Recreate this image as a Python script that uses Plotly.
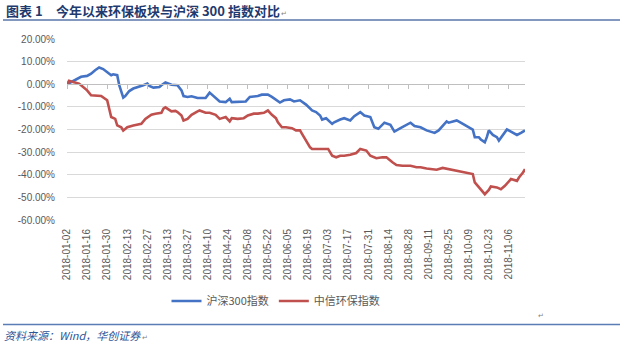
import plotly.graph_objects as go

# ---- data (trading-day index from 2018-01-02, value in %) ----
TICK_LABELS = ["2018-01-02", "2018-01-16", "2018-01-30", "2018-02-13", "2018-02-27",
               "2018-03-13", "2018-03-27", "2018-04-10", "2018-04-24", "2018-05-08",
               "2018-05-22", "2018-06-05", "2018-06-19", "2018-07-03", "2018-07-17",
               "2018-07-31", "2018-08-14", "2018-08-28", "2018-09-11", "2018-09-25",
               "2018-10-09", "2018-10-23", "2018-11-06"]
TICK_STEP = 10
N_DAYS = 229

HS300_DAY = [0, 2, 5, 7, 10, 12, 14, 16, 18, 20, 22, 23, 25, 26, 27, 28, 29, 31, 33, 36,
             38, 40, 41, 43, 46, 47, 49, 52, 54, 55, 57, 58, 60, 62, 65, 69, 71, 74, 76, 79,
             81, 82, 85, 89, 91, 95, 97, 100, 102, 104, 106, 108, 111, 113, 115, 116, 119, 122, 124, 126,
             127, 129, 132, 133, 136, 138, 141, 143, 146, 148, 151, 153, 155, 157, 158, 161, 163, 166, 168, 171,
             173, 176, 179, 181, 183, 185, 187, 189, 190, 194, 196, 200, 202, 203, 205, 206, 208, 209, 210, 212,
             214, 215, 217, 219, 221, 224, 226, 228]
HS300 = [0.0, 1.0, 2.2, 3.3, 3.7, 4.7, 6.2, 7.4, 6.7, 5.5, 4.0, 4.4, 4.0, -0.4, -3.4, -5.9, -5.2, -3.0, -1.9, -1.2,
         -0.4, 0.3, -0.7, -1.5, -1.2, -0.4, 0.8, -0.2, -0.4, -0.4, -2.7, -5.2, -5.6, -5.3, -6.1, -6.1, -3.7, -6.1, -7.6, -7.9,
         -6.4, -7.9, -7.9, -7.6, -5.6, -5.2, -4.6, -4.6, -5.6, -6.7, -8.1, -7.1, -6.7, -7.6, -7.1, -7.1, -9.0, -11.6, -12.3, -13.8,
         -15.6, -15.0, -17.5, -16.8, -15.6, -15.0, -16.0, -14.1, -12.3, -13.8, -14.5, -19.0, -19.7, -17.9, -17.0, -17.9, -20.9, -19.4, -18.5, -17.0,
         -18.5, -19.0, -20.4, -20.9, -21.5, -20.4, -18.2, -16.4, -17.0, -16.0, -17.0, -19.0, -20.0, -23.4, -23.4, -24.4, -25.6, -23.4, -20.4, -22.4,
         -23.4, -24.9, -22.7, -20.0, -20.9, -22.4, -21.5, -20.4]

ENV_DAY = [0, 1, 3, 6, 7, 10, 12, 15, 17, 20, 21, 22, 24, 25, 27, 28, 30, 33, 37, 39,
           42, 44, 47, 48, 49, 52, 54, 55, 57, 58, 60, 62, 65, 66, 69, 71, 74, 76, 79, 81,
           82, 85, 88, 90, 93, 95, 98, 100, 102, 104, 105, 107, 109, 112, 114, 116, 117, 119, 121, 122,
           125, 127, 130, 132, 134, 136, 138, 141, 144, 146, 149, 151, 154, 157, 159, 162, 164, 167, 169, 171,
           174, 176, 179, 181, 184, 187, 190, 192, 195, 197, 200, 202, 203, 205, 206, 208, 210, 211, 214, 216,
           218, 220, 221, 224, 225, 227, 228]
ENV = [0.0, 1.5, 1.0, 0.3, -0.4, -2.7, -4.9, -4.9, -5.2, -7.1, -11.0, -14.5, -15.3, -18.2, -19.0, -20.5, -19.0, -18.2, -17.5, -15.3,
       -13.5, -13.0, -12.6, -10.8, -10.2, -12.0, -11.8, -12.3, -13.8, -16.0, -15.3, -13.5, -12.0, -11.6, -12.6, -12.6, -13.5, -15.3, -14.5, -16.4,
       -15.0, -15.3, -15.0, -13.8, -13.0, -13.0, -12.6, -11.6, -13.5, -15.0, -16.8, -19.0, -19.0, -19.4, -20.4, -20.4, -21.9, -24.9, -27.9, -28.6,
       -28.6, -28.3, -28.6, -31.6, -32.3, -31.6, -31.6, -31.2, -30.4, -28.6, -29.3, -31.6, -32.7, -32.3, -32.3, -34.5, -35.7, -36.0, -36.0, -36.0,
       -36.7, -36.7, -37.2, -37.5, -37.8, -37.0, -37.5, -37.8, -38.2, -38.7, -39.2, -39.7, -43.4, -45.6, -46.7, -48.6, -46.7, -45.2, -45.6, -46.4,
       -44.9, -42.7, -41.9, -42.7, -41.2, -39.0, -37.5]

Y_TICKS = [20, 10, 0, -10, -20, -30, -40, -50, -60]
Y_LABELS = ["20.00%", "10.00%", "0.00%", "-10.00%", "-20.00%", "-30.00%", "-40.00%", "-50.00%", "-60.00%"]

SERIES_NAMES = ["沪深300指数", "中信环保指数"]
TITLE_NO = "图表 1"
TITLE = "今年以来环保板块与沪深 300 指数对比"
SOURCE = "资料来源：Wind，华创证券"
PARA = "↵"

# ---- layout geometry (pixels) ----
W, H = 620, 343
L, R, T, B = 67, 525, 39, 220


def px(x):
    return (x - L) / (R - L)


def py(y):
    return (B - y) / (B - T)


BLUE = "#4472C4"
RED = "#C0504D"
GRID = "#D9D9D9"
TXT = "#595959"
NUM_FONT = "Liberation Sans"
CJK_FONT = "Noto Sans CJK SC"
PARA_SPAN = f"<span style='font-size:7px;color:#7F7F7F;font-style:normal;font-weight:normal'> {PARA}</span>"

fig = go.Figure()
fig.add_trace(go.Scatter(x=HS300_DAY, y=HS300, mode="lines", name=SERIES_NAMES[0],
                         line=dict(color=BLUE, width=2.6)))
fig.add_trace(go.Scatter(x=ENV_DAY, y=ENV, mode="lines", name=SERIES_NAMES[1],
                         line=dict(color=RED, width=2.6)))
# carrier for the category axis drawn at the 0% line
fig.add_trace(go.Scatter(x=[0, N_DAYS - 1], y=[0, 0], mode="lines", xaxis="x2",
                         line=dict(color="rgba(0,0,0,0)", width=0), showlegend=False,
                         hoverinfo="skip"))

tickvals = [i * TICK_STEP for i in range(len(TICK_LABELS))]

fig.update_layout(
    width=W, height=H,
    margin=dict(l=L, r=W - R, t=T, b=H - B),
    paper_bgcolor="white", plot_bgcolor="white",
    showlegend=True,
    xaxis=dict(range=[0, N_DAYS - 1], tickmode="array", tickvals=tickvals, ticktext=TICK_LABELS,
               tickangle=-90, showgrid=False, zeroline=False, showline=False,
               ticks="outside", ticklen=4, tickcolor="rgba(0,0,0,0)",
               tickfont=dict(family=NUM_FONT, size=10, color=TXT)),
    xaxis2=dict(overlaying="x", anchor="free", position=py(84), range=[0, N_DAYS - 1],
                tickmode="array", tickvals=tickvals, showticklabels=False,
                showgrid=False, zeroline=False, showline=True, linecolor="#BFBFBF", linewidth=1,
                ticks="outside", ticklen=4, tickcolor="#BFBFBF", tickwidth=1),
    yaxis=dict(range=[-60, 20], tickmode="array", tickvals=Y_TICKS, ticktext=Y_LABELS,
               showgrid=True, gridcolor=GRID, gridwidth=1, zeroline=False, showline=False,
               ticks="outside", ticklen=9, tickcolor="rgba(0,0,0,0)",
               tickfont=dict(family=NUM_FONT, size=10, color=TXT)),
    legend=dict(orientation="h", x=px(276), xanchor="center", y=py(301), yanchor="middle",
                font=dict(family=CJK_FONT, size=11, color=TXT), itemwidth=30,
                bgcolor="rgba(0,0,0,0)"),
)

# title, rules and source
fig.add_annotation(x=px(4), y=py(11), xref="paper", yref="paper", text=f"<b>{TITLE_NO}</b>",
                   showarrow=False, xanchor="left", yanchor="middle",
                   font=dict(family=CJK_FONT, size=13, color="#1F3A6E"))
fig.add_annotation(x=px(54), y=py(11), xref="paper", yref="paper", text=f"<b>{TITLE}</b>{PARA_SPAN}",
                   showarrow=False, xanchor="left", yanchor="middle",
                   font=dict(family=CJK_FONT, size=13, color="#1F3A6E"))
fig.add_annotation(x=px(536), y=py(316), xref="paper", yref="paper", text=PARA,
                   showarrow=False, xanchor="left", yanchor="middle",
                   font=dict(family="DejaVu Sans", size=7, color="#7F7F7F"))
fig.add_annotation(x=px(2), y=py(335), xref="paper", yref="paper", text=f"<i>{SOURCE}</i>{PARA_SPAN}",
                   showarrow=False, xanchor="left", yanchor="middle",
                   font=dict(family=CJK_FONT, size=11, color="#2F5597"))

fig.add_shape(type="line", xref="paper", yref="paper", x0=px(3), x1=px(620), y0=py(20), y1=py(20),
              line=dict(color="#5A76A8", width=1.5))
fig.add_shape(type="line", xref="paper", yref="paper", x0=px(3), x1=px(620), y0=py(324.5), y1=py(324.5),
              line=dict(color="#5A7DB5", width=1.5))

fig.write_html("out.html")
